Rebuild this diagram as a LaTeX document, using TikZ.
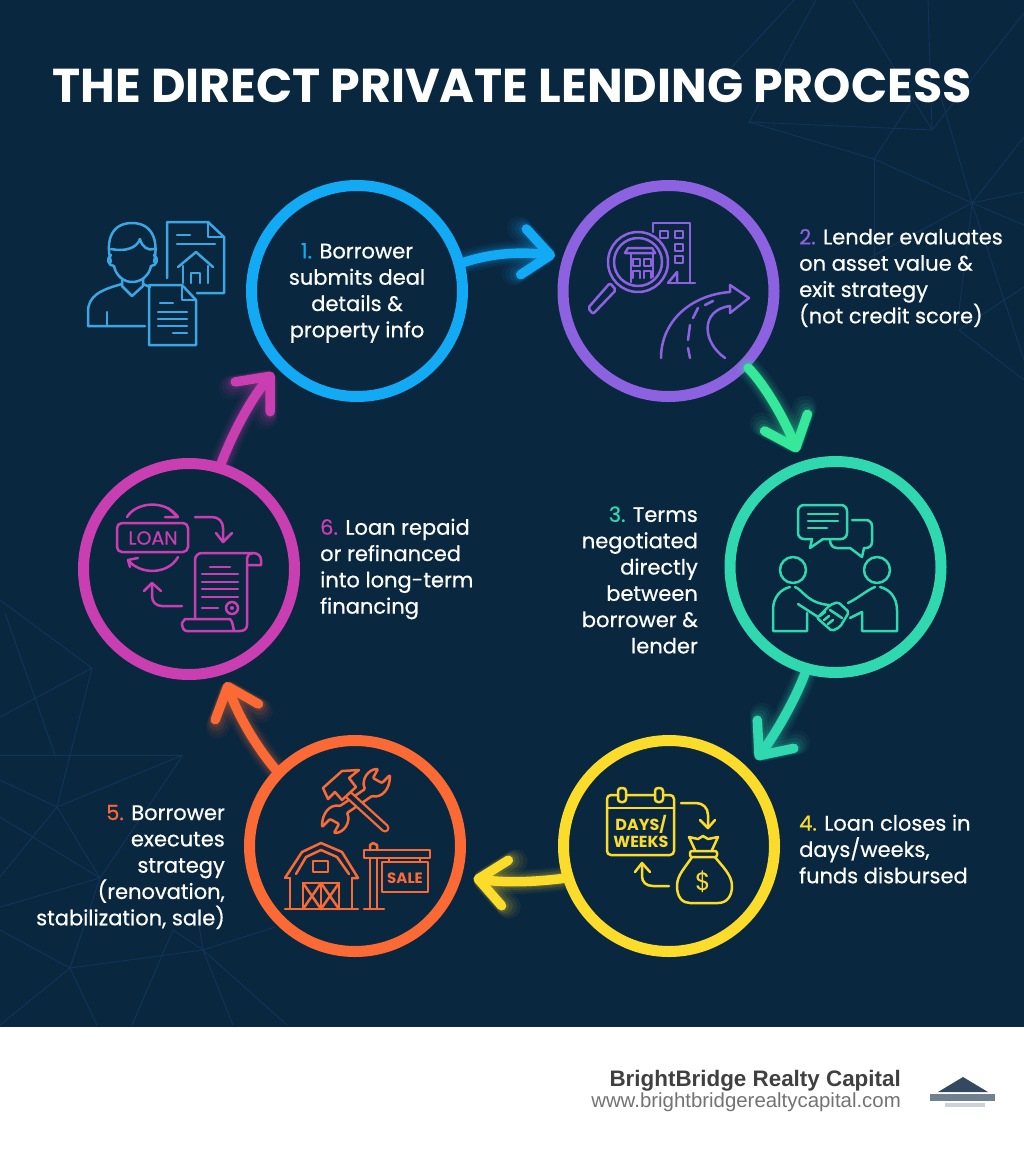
\documentclass[tikz,border=0pt]{standalone}
\usepackage{fontspec}
\setmainfont{Poppins}
\newfontfamily\bodyfont[FakeBold=0.6]{Poppins}
\newfontfamily\footfont{Liberation Sans}
\usetikzlibrary{arrows.meta}

\definecolor{navy}{HTML}{0A2740}
\definecolor{netline}{HTML}{12345A}
\definecolor{skyc}{HTML}{12AAF5}
\definecolor{iconsky}{HTML}{3BA6E2}
\definecolor{purplec}{HTML}{8C62E0}
\definecolor{tealc}{HTML}{2FD8AE}
\definecolor{mintc}{HTML}{35E89A}
\definecolor{yellowc}{HTML}{FBDC2A}
\definecolor{orangec}{HTML}{FB6A35}
\definecolor{magentac}{HTML}{C93EB0}
\definecolor{slatec}{HTML}{34495F}

\tikzset{
    ring/.style={draw=#1, circle, line width=11pt, minimum size=211pt, inner sep=0pt,
        text=white, align=center, font=\bodyfont\fontsize{21}{26.5}\selectfont},
    steptext/.style={text=white, inner sep=0pt, align=#1, font=\bodyfont\fontsize{21}{26.3}\selectfont},
    flow/.style={line width=9.5pt, draw=#1, line cap=round,
        -{Straight Barb[length=27pt, width=46pt, round]}},
    glowline/.style={line width=#1, line cap=round},
    icon/.style={draw=#1, line width=2.5pt, line cap=round, line join=round},
    net/.style={draw=netline, line width=0.9pt}
}

% Glow under a connector, then the connector
\newcommand{\glowflow}[2]{
    \foreach \wid/\alp in {24/.05,20/.07,16/.10,12/.14} {
        \draw[flow=#1, glowline=\wid pt, opacity=\alp] #2;
    }
    \draw[flow=#1] #2;
}
\newcommand{\stepnum}[2]{\textcolor{#1}{#2.}}

\begin{document}
\begin{tikzpicture}[x=1pt, y=-1pt]
    \useasboundingbox (0,0) rectangle (1024,1154);
    \fill[white] (0,0) rectangle (1024,1154);
    \fill[navy] (0,0) rectangle (1024,1027);

    % Faint network, top right and bottom left
    \foreach \xa/\ya/\xb/\yb in {
        749/122/874/159, 874/159/972/203, 972/203/1024/225, 972/203/1024/192,
        972/203/1024/137, 972/203/941/97, 874/159/914/97, 874/159/874/260,
        972/203/871/257, 972/203/957/327, 972/203/1024/360, 959/330/1024/380,
        959/330/1024/287, 749/122/816/0, 715/85/794/0, 932/130/853/0,
        932/130/928/0, 932/130/1024/13, 932/130/749/122,
        0/600/92/668, 0/717/92/668, 5/613/55/755, 92/668/57/807, 0/755/183/755,
        183/755/57/807, 183/755/100/878, 57/807/100/878, 0/780/57/807, 57/807/0/877,
        0/817/100/878, 100/878/0/907, 100/878/70/968, 0/930/70/968, 70/968/203/950,
        203/950/275/927, 203/950/173/930, 203/950/197/913, 173/930/132/1025,
        203/950/233/1025, 203/950/287/1025, 70/968/0/1025, 70/968/97/1025, 70/968/85/923
    } {
        \draw[net] (\xa,\ya) -- (\xb,\yb);
    }

    % Title
    \node[text=white, font=\bfseries\fontsize{47.5}{47.5}\selectfont, inner sep=0pt] (title) at (512,86)
        {THE DIRECT PRIVATE LENDING PROCESS};

    % Step circles
    \node[ring=skyc] (ring1) at (357,291) {};
    \node[ring=purplec] (ring2) at (668.5,291) {};
    \node[ring=tealc] (ring3) at (835.5,567) {};
    \node[ring=yellowc] (ring4) at (669,846) {};
    \node[ring=orangec] (ring5) at (355,846) {};
    \node[ring=magentac] (ring6) at (189,569) {};

    % Step texts
    \node[steptext=center] (text1) at (357,293)
        {\stepnum{skyc}{1} Borrower\\submits deal\\details \&\\property info};
    \node[steptext=left, anchor=west] (text2) at (799,278)
        {\stepnum{purplec}{2} Lender evaluates\\on asset value \&\\exit strategy\\(not credit score)};
    \node[steptext=right, anchor=east] (text3) at (698,580)
        {\stepnum{tealc}{3} Terms\\negotiated\\directly\\between\\borrower \&\\lender};
    \node[steptext=left, anchor=west] (text4) at (799,849)
        {\stepnum{yellowc}{4} Loan closes in\\days/weeks,\\funds disbursed};
    \node[steptext=right, anchor=east] (text5) at (225,867)
        {\stepnum{orangec}{5} Borrower\\executes\\strategy\\(renovation,\\stabilization, sale)};
    \node[steptext=left, anchor=west] (text6) at (320,569)
        {\stepnum{magentac}{6} Loan repaid\\or refinanced\\into long-term\\financing};

    % Connectors
    \glowflow{skyc}{[shorten >=8pt] (ring1.15) .. controls (495,252) and (525,252) .. (ring2.162)}
    \glowflow{mintc}{[shorten >=10pt] (ring2.-44) .. controls (765,385) and (785,420) .. (ring3.108)}
    \glowflow{tealc}{[shorten >=12pt] (ring3.-106) .. controls (795,700) and (775,735) .. (ring4.44)}
    \glowflow{yellowc}{[shorten >=12pt] (ring4.197) .. controls (535,882) and (505,883) .. (ring5.-16)}
    \glowflow{orangec}{[shorten >=8pt] (ring5.136) .. controls (255,745) and (238,715) .. (ring6.-72)}
    \glowflow{magentac}{[shorten >=6pt] (ring6.73) .. controls (232,435) and (250,400) .. (ring1.-136)}

    % Person with documents
    \begin{scope}[icon=iconsky]
        \draw (111,262) .. controls (105,240) and (112,223) .. (132,223) .. controls (152,223) and (159,240) .. (154,262);
        \draw (111,249) .. controls (125,252) and (137,248) .. (140,239) .. controls (142,247) and (148,251) .. (154,249);
        \draw (111,255) .. controls (106,258) and (108,266) .. (114,266) .. controls (116,276) and (124,282) .. (132,282)
            .. controls (141,282) and (149,276) .. (151,266) .. controls (157,266) and (159,258) .. (154,255);
        \draw (122,279) -- (122,286) -- (132,296) -- (143,286) -- (143,279);
        \draw (122,284) .. controls (100,290) and (88,296) .. (88,312) -- (88,326) -- (145,326);
        \draw (143,284) -- (150,287);
        \draw (107,312) -- (107,326);
        \draw (167,278) -- (167,222) -- (208,222) -- (224,237) -- (224,293) -- (197,293);
        \draw (208,222) -- (208,237) -- (224,237);
        \draw (177,235) -- (190,235);
        \draw (177,244) -- (215,244);
        \draw (178,267) -- (196,252) -- (213,267);
        \draw (183,266) -- (183,283);
        \draw (208,266) -- (208,283);
        \draw (191,283) -- (191,273) -- (200,273) -- (200,283);
        \draw (149,285) -- (182,285) -- (196,300) -- (196,345) -- (149,345) -- cycle;
        \draw (182,285) -- (182,300) -- (196,300);
        \draw (160,303) -- (173,303);
        \foreach \yy in {312,319,326} {
            \draw (158,\yy) -- (187,\yy);
        }
        \draw (173,333) -- (187,333);
    \end{scope}

    % Magnifier, building and road
    \begin{scope}[icon=purplec]
        \draw (638,262) circle (30pt);
        \draw (638,262) circle (24pt);
        \draw[rounded corners=2pt] (610,283) -- (588,308) -- (593,314) -- (616,290) -- cycle;
        \draw (628,248) -- (652,248) -- (655,253) -- (625,253) -- cycle;
        \draw (631,253) -- (631,282);
        \draw (653,253) -- (653,277);
        \foreach \xx in {633,644} {
            \draw (\xx,259) rectangle +(7,7);
            \draw (\xx,278) -- (\xx,271) -- (\xx+7,271) -- (\xx+7,278);
        }
        \draw (653,232) -- (653,223) -- (690,223) -- (690,283);
        \draw (668,283) -- (695,283);
        \draw (668,283) -- (677,272) -- (677,283);
        \draw (660,231) rectangle (668,238);
        \foreach \yy in {231,244,256} {
            \draw (675,\yy) rectangle +(8,7);
        }
        \draw (661,358) .. controls (661,322) and (690,295) .. (730,292) -- (730,285) -- (749,298) -- (730,313) -- (730,306)
            .. controls (700,310) and (702,342) .. (725,358);
        \draw (690,358) -- (688,348);
        \draw (688,340) -- (690,325);
        \draw (693,318) -- (698,308);
        \draw (705,305) -- (713,301);
    \end{scope}

    % Speech bubbles and handshake
    \begin{scope}[icon=tealc]
        \draw[rounded corners=6pt] (823,539) -- (847,539) -- (847,505) -- (798,505) -- (798,539) -- (812,539);
        \draw (812,539) -- (810,548) -- (823,539);
        \draw (808,514) -- (838,514);
        \draw (808,521) -- (838,521);
        \draw (808,528) -- (827,528);
        \draw[rounded corners=6pt] (852,520) -- (872,520) -- (872,548) -- (864,548);
        \draw (864,548) -- (862,557) -- (850,548) -- (837,548) .. controls (833,548) and (830,545) .. (830,540);
        \draw (793,570) circle (13pt);
        \draw (877,570) circle (13pt);
        \draw (807,613) -- (807,631) -- (773,631) -- (773,610) .. controls (773,597) and (781,589) .. (790,587);
        \draw (795,587) .. controls (803,590) and (807,603) .. (829,605);
        \draw (798,604) -- (818,617);
        \draw (862,612) -- (862,631) -- (897,631) -- (897,610) .. controls (897,597) and (889,589) .. (880,587);
        \draw (875,587) .. controls (867,590) and (860,597) .. (848,603);
        \draw (862,612) -- (850,618);
        \draw[rounded corners=2pt] (817,618) -- (830,605) -- (838,602) -- (849,612) -- (840,627) -- (832,631) -- cycle;
        \draw (830,610) -- (842,618);
        \foreach \xx/\yy in {820/616,824/620,828/624} {
            \draw (\xx,\yy) -- (\xx+5,\yy-4);
        }
    \end{scope}

    % Calendar and money bag
    \begin{scope}[icon=yellowc]
        \draw[rounded corners=4pt] (607,795) rectangle (674,855);
        \draw (607,808) -- (674,808);
        \foreach \xx in {622,659} {
            \draw[fill=navy, rounded corners=3pt] (\xx-4,788) rectangle (\xx+4,802);
        }
        \node[text=yellowc, inner sep=0pt, align=center, font=\bfseries\fontsize{16}{17}\selectfont] (daystext) at (641,831) {DAYS/\\WEEKS};
        \draw (681,803) -- (696,803) .. controls (703,803) and (708,808) .. (708,815) -- (708,828);
        \draw (700,820) -- (708,828) -- (715,820);
        \draw (695,850) -- (689,837) -- (698,839) -- (703,836) -- (708,839) -- (718,837) -- (712,850);
        \draw[rounded corners=2pt] (690,851) rectangle (717,857);
        \draw (692,857) .. controls (685,868) and (677,875) .. (677,886) .. controls (677,898) and (683,903) .. (690,903) -- (718,903)
            .. controls (727,903) and (732,896) .. (732,886) .. controls (732,875) and (722,866) .. (715,857);
        \node[text=yellowc, inner sep=0pt, font=\fontsize{25}{25}\selectfont] (bagdollar) at (703,882) {\$};
        \draw (669,886) -- (653,886) .. controls (646,886) and (642,882) .. (642,876) -- (642,863);
        \draw (635,872) -- (642,863) -- (650,872);
    \end{scope}

    % Tools, barn and sale sign
    \begin{scope}[icon=orangec]
        \draw[rounded corners=1pt] (378,769) .. controls (368,769) and (361,780) .. (365,789) -- (340,806)
            .. controls (330,804) and (322,813) .. (322,827) -- (330,819) -- (339,824) -- (334,833)
            .. controls (344,833) and (351,822) .. (347,813) -- (372,796) .. controls (382,798) and (390,789) .. (390,775)
            -- (382,783) -- (373,778) -- cycle;
        \draw[line width=9pt] (340,787) -- (385,828);
        \draw[draw=navy, line width=4.3pt] (340,787) -- (385,828);
        \draw[fill=navy] (323,788) -- (342,771) -- (359,770) -- (349,778) -- (356,787) -- (342,800) -- (335,792) -- (328,799) -- cycle;
        \draw (285,878) -- (302,852) -- (321,843) -- (342,852) -- (358,878) -- (352,878);
        \draw (285,878) -- (290,878);
        \draw (296,874) -- (306,857) -- (321,850) -- (337,857) -- (349,874);
        \draw (290,878) -- (290,909);
        \draw (352,878) -- (352,909);
        \draw (285,909) -- (358,909);
        \draw (313,861) rectangle (328,872);
        \draw (303,909) -- (303,883) -- (339,883) -- (339,909);
        \draw (321,883) -- (321,909);
        \draw (303,883) -- (321,909) -- (339,883);
        \draw (321,883) -- (303,909);
        \draw (321,883) -- (339,909);
        \draw (370,909) -- (370,858);
        \draw (377,909) -- (377,858);
        \draw (370,850) -- (370,845) -- (373,843) -- (377,845) -- (377,850);
        \draw (364,850) rectangle (430,858);
        \draw (364,909) -- (384,909);
        \draw (389,858) -- (389,862);
        \draw (420,858) -- (420,862);
        \draw (382,862) rectangle (428,892);
        \node[text=orangec, inner sep=0pt, font=\bfseries\fontsize{15}{15}\selectfont] (saletext) at (405,878) {SALE};
    \end{scope}

    % Loan and contract scroll
    \begin{scope}[icon=magentac]
        \draw[rounded corners=5pt] (117,523) rectangle (188,552);
        \node[text=magentac, inner sep=0pt, font=\bodyfont\fontsize{19}{19}\selectfont] (loantext) at (153,538) {LOAN};
        \draw (127,517) .. controls (136,502) and (165,499) .. (178,517);
        \draw (168,508) -- (178,517) -- (165,517);
        \draw (178,557) .. controls (168,575) and (140,575) .. (128,560);
        \draw (138,558) -- (128,560) -- (130,567);
        \draw (195,517) -- (212,517) .. controls (219,517) and (223,522) .. (223,528) -- (223,542);
        \draw (216,533) -- (223,542) -- (232,533);
        \draw (182,606) -- (162,606) .. controls (156,606) and (152,602) .. (152,596) -- (152,583);
        \draw (144,591) -- (152,583) -- (161,591);
        \draw (195,619) -- (195,560) .. controls (195,556) and (198,553) .. (202,553) -- (253,553)
            .. controls (258,553) and (261,556) .. (261,560) -- (261,565) -- (247,565);
        \draw (247,558) .. controls (247,555) and (250,553) .. (253,553);
        \draw (247,558) -- (247,625) .. controls (247,629) and (244,631) .. (240,631) -- (187,631)
            .. controls (184,631) and (182,628) .. (182,623) -- (185,619) -- (230,619) .. controls (233,622) and (233,627) .. (234,631);
        \draw (210,567) -- (230,567);
        \foreach \yy in {574,582,589,597} {
            \draw (202,\yy) -- (238,\yy);
        }
        \draw (202,608) -- (218,608);
        \draw (232,608) circle (6pt);
        \fill[magentac] (232,608) circle (2pt);
    \end{scope}

    % Footer
    \node[anchor=base east, inner sep=0pt, text=black!75, font=\footfont\bfseries\fontsize{22.4}{23}\selectfont] (brand) at (901,1086) {BrightBridge Realty Capital};
    \node[anchor=base east, inner sep=0pt, text=black!55, font=\footfont\fontsize{20.4}{21}\selectfont] (website) at (901,1107) {www.brightbridgerealtycapital.com};
    \fill[slatec] (963,1077) -- (988,1092) -- (938,1092) -- cycle;
    \fill[slatec!70] (930,1094) rectangle (995,1101);
    \fill[slatec!25] (945,1103) rectangle (985,1107);
\end{tikzpicture}
\end{document}
